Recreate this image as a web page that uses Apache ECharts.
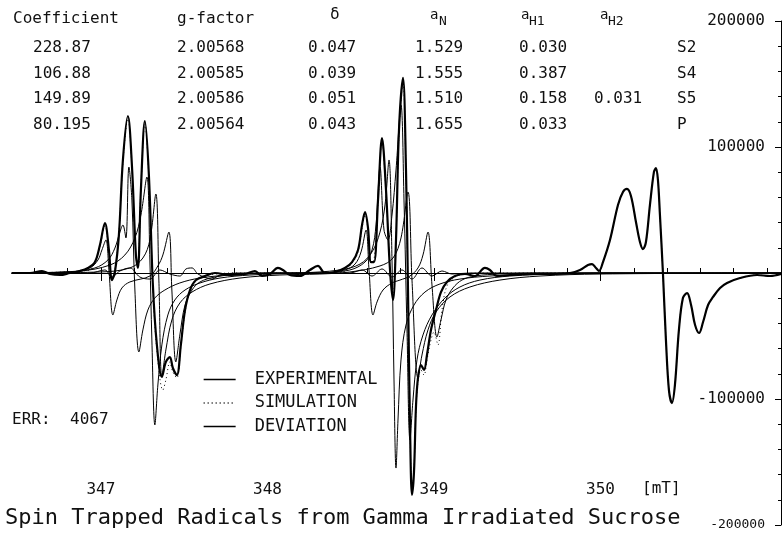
<!DOCTYPE html>
<html><head><meta charset="utf-8">
<script src="https://cdn.jsdelivr.net/npm/echarts@6/dist/echarts.min.js"></script>
<style>html,body{margin:0;padding:0;background:#fff}#c{width:784px;height:535px}</style>
</head><body><div id="c"></div>
<script>
// ---------- DATA (field in mT, intensity in arbitrary units) ----------
const experimental = [
[346.465,0],[346.574,0],[346.646,1600],[346.694,-800],[346.754,-1600],[346.814,0],[346.874,1600],[346.922,4000],
[346.964,8700],[346.994,22200],[347.024,39700],[347.048,18300],[347.066,-5600],[347.084,800],[347.108,30200],
[347.132,89700],[347.162,124600],[347.186,85700],[347.210,14300],[347.222,4000],[347.240,65900],[347.264,120600],
[347.288,77800],[347.312,-9500],[347.336,-57100],[347.366,-82500],[347.390,-70600],[347.414,-66700],[347.432,-75400],
[347.456,-81000],[347.480,-57100],[347.505,-29400],[347.535,-13500],[347.571,-5600],[347.625,-2400],[347.685,0],
[347.775,-1600],[347.865,-800],[347.925,1600],[347.967,-2400],[348.015,-800],[348.063,4000],[348.093,2400],
[348.135,-1600],[348.195,-2400],[348.255,2400],[348.303,5600],[348.345,0],[348.405,800],[348.465,4000],
[348.508,8700],[348.544,18300],[348.568,38100],[348.586,48400],[348.604,35700],[348.622,8700],[348.640,8700],
[348.664,57900],[348.688,107100],[348.712,65900],[348.736,2400],[348.754,-21400],[348.772,26200],[348.790,113500],
[348.814,154800],[348.832,81700],[348.844,-13500],[348.856,-120000],[348.868,-176000],[348.880,-158000],
[348.892,-106000],[348.904,-83300],[348.922,-73000],[348.940,-77000],[348.958,-65100],[348.982,-45200],
[349.012,-29400],[349.042,-15100],[349.078,-7100],[349.126,-2400],[349.186,-800],[349.246,-2400],[349.306,4000],
[349.336,2400],[349.378,-2400],[349.456,-1600],[349.577,-800],[349.697,-800],[349.817,0],[349.877,2400],
[349.925,6300],[349.949,7100],[349.973,4000],[349.991,1600],[350.015,8700],[350.057,26200],[350.105,54000],
[350.135,64300],[350.159,66700],[350.183,61100],[350.213,40500],[350.237,24600],[350.255,19000],[350.273,24600],
[350.297,54000],[350.321,80200],[350.333,83300],[350.345,73800],[350.357,46000],[350.375,0],[350.393,-53200],
[350.411,-92900],[350.429,-103200],[350.447,-88900],[350.471,-45200],[350.495,-19800],[350.520,-15900],
[350.544,-25400],[350.568,-41300],[350.592,-47600],[350.616,-38900],[350.646,-25400],[350.676,-19000],
[350.718,-11900],[350.760,-7900],[350.838,-4000],[350.940,-1600],[351.018,-2400],[351.084,-800]
];
const simulation = [
[346.465,0],[346.920,2000],[346.964,7900],[346.994,20600],[347.024,37300],[347.048,16700],[347.066,-4000],
[347.084,2400],[347.108,31700],[347.132,88100],[347.162,122200],[347.186,83300],[347.210,12700],[347.222,5600],
[347.240,67500],[347.264,118300],[347.288,75400],[347.312,-11900],[347.336,-61100],[347.372,-92900],
[347.390,-84900],[347.414,-70600],[347.432,-78600],[347.456,-83300],[347.480,-58700],[347.505,-31000],
[347.535,-15100],[347.571,-6300],[347.625,-2400],[347.685,-800],[347.800,0],[348.300,0],[348.435,0],
[348.508,7900],[348.544,16700],[348.568,35700],[348.586,46000],[348.604,34100],[348.622,8700],[348.640,10300],
[348.664,56300],[348.688,104800],[348.712,63500],[348.736,4000],[348.754,-19800],[348.772,27800],[348.790,111100],
[348.814,151600],[348.832,80200],[348.844,-15100],[348.856,-122000],[348.868,-172000],[348.880,-156000],
[348.892,-108000],[348.904,-86500],[348.922,-77000],[348.940,-81000],[348.958,-69000],[348.982,-53200],
[349.000,-46800],[349.024,-57100],[349.048,-29400],[349.078,-10300],[349.126,-3200],[349.186,-800],[349.300,0],
[349.817,0],[349.877,2400],[349.925,6300],[349.949,7100],[349.973,4000],[349.991,1600],[350.015,8700],
[350.057,26200],[350.105,54000],[350.135,64300],[350.159,66700],[350.183,61100],[350.213,40500],[350.237,24600],
[350.255,19000],[350.273,24600],[350.297,54000],[350.321,80200],[350.333,83300],[350.345,73800],[350.357,46000],
[350.375,0],[350.393,-53200],[350.411,-92900],[350.429,-103200],[350.447,-88900],[350.471,-45200],[350.495,-19800],
[350.520,-15900],[350.544,-25400],[350.568,-41300],[350.592,-47600],[350.616,-38900],[350.646,-25400],
[350.676,-19000],[350.718,-11900],[350.760,-7900],[350.838,-4000],[350.940,-1600],[351.018,-2400],[351.084,-800]
];
const deviation = [
[346.465,0],[346.934,0],[347.024,2400],[347.066,-3200],[347.114,1600],[347.174,4000],[347.234,-3200],
[347.294,-4800],[347.354,2400],[347.414,-800],[347.474,-2400],[347.511,3200],[347.547,4000],[347.583,-800],
[347.667,-4800],[347.715,-1600],[347.835,0],[348.495,0],[348.568,2400],[348.628,-2400],[348.688,3200],
[348.748,-3200],[348.808,2400],[348.868,-4800],[348.928,4000],[348.988,-2400],[349.048,1600],[349.108,-800],
[349.216,0],[351.084,0]
];
const compS2 = [
[346.465,0],[346.874,1600],[347.054,6300],[347.144,14300],[347.204,27800],[347.240,46000],[347.276,76200],
[347.294,10300],[347.306,-53200],[347.324,-120600],[347.342,-88900],[347.366,-57100],[347.402,-33300],
[347.444,-21400],[347.505,-13500],[347.595,-7900],[347.715,-4000],[347.895,-1600],[348.195,0],[348.435,2400],
[348.556,7100],[348.628,16700],[348.676,32500],[348.706,54000],[348.730,89700],[348.748,10300],[348.760,-84900],
[348.772,-154800],[348.784,-116700],[348.802,-69000],[348.832,-41300],[348.880,-25400],[348.946,-15100],
[349.036,-8700],[349.156,-4800],[349.336,-2400],[349.637,-800],[349.997,0],[351.084,0]
];
const compS4 = [
[346.465,0],[346.814,800],[346.934,4000],[346.982,10300],[347.006,18300],[347.030,26200],[347.048,2400],
[347.072,-33300],[347.096,-21400],[347.126,-11900],[347.174,-7100],[347.294,-2400],[347.342,5600],[347.372,14300],
[347.408,32500],[347.426,-13500],[347.450,-70600],[347.474,-49200],[347.505,-25400],[347.547,-13500],
[347.595,-7100],[347.685,-3200],[347.835,-800],[348.075,0],[348.315,0],[348.465,2400],[348.526,7100],
[348.562,16700],[348.592,34100],[348.610,2400],[348.634,-33300],[348.658,-23000],[348.694,-13500],[348.748,-7900],
[348.796,-5600],[348.856,-2400],[348.904,4000],[348.934,14300],[348.964,32500],[348.988,-9500],[349.018,-50800],
[349.042,-37300],[349.072,-21400],[349.114,-11900],[349.168,-5600],[349.246,-2400],[349.396,-800],[349.637,0],
[351.084,0]
];
const compS5 = [
[346.465,0],[346.814,800],[346.964,4000],[347.042,10300],[347.084,19800],[347.114,32500],[347.132,38100],
[347.150,27800],[347.168,84100],[347.186,57900],[347.204,-13500],[347.228,-62700],[347.252,-45200],
[347.282,-29400],[347.324,-19800],[347.384,-13500],[347.474,-7900],[347.595,-4000],[347.775,-1600],[348.075,0],
[348.315,0],[348.495,2400],[348.586,8700],[348.628,18300],[348.652,38100],[348.676,84100],[348.700,34100],
[348.724,26200],[348.748,46000],[348.772,81700],[348.802,133300],[348.820,57900],[348.838,-45200],
[348.856,-132500],[348.874,-100800],[348.898,-69000],[348.934,-49200],[348.988,-33300],[349.066,-19800],
[349.156,-11100],[349.276,-5600],[349.456,-2400],[349.757,-800],[350.117,0],[351.084,0]
];
const compP = [
[346.465,0],[346.994,800],[347.174,4000],[347.252,11900],[347.294,26200],[347.330,62700],[347.348,-5600],
[347.366,-82500],[347.390,-61100],[347.426,-37300],[347.474,-23800],[347.547,-15100],[347.655,-8700],
[347.835,-4000],[348.075,-1600],[348.315,-800],[348.495,800],[348.676,5600],[348.754,11900],[348.802,27800],
[348.844,64300],[348.868,-5600],[348.904,-83300],[348.928,-65100],[348.964,-45200],[349.012,-31000],
[349.096,-19000],[349.216,-11100],[349.396,-5600],[349.637,-2400],[349.997,-800],[351.084,0]
];
// fit table
const tableNames = ['S2','S4','S5','P'];
const coefficients = ['228.87','106.88','149.89','80.195'];
const gFactors = ['2.00568','2.00585','2.00586','2.00564'];
const deltas = ['0.047','0.039','0.051','0.043'];
const aN = ['1.529','1.555','1.510','1.655'];
const aH1 = ['0.030','0.387','0.158','0.033'];
const aH2 = ['','','0.031',''];
const errValue = '4067';
// axis ticks
const xMinorTicks = [346.6,346.8,347.0,347.2,347.4,347.6,347.8,348.0,348.2,348.4,348.6,348.8,349.0,349.2,349.4,349.6,349.8,350.0,350.2,350.4,350.6,350.8,351.0];
const xMajorTicks = [347,348,349,350];

// ---------- CHART ----------
const FONT = '"DejaVu Sans Mono", monospace';
const chart = echarts.init(document.getElementById('c'), null, {renderer:'canvas'});
const T = (text, x, y, size, align) => ({type:'text', silent:true,
  style:{text, x, y, font: (size||16)+'px '+FONT, fill:'#111', verticalAlign:'middle', align: align||'left'}});

const graphics = [];
graphics.push(T('Coefficient',13,19,16), T('g-factor',177,19,16), T('δ',330,15,16),
  T('a',430,15,14), T('N',439,22,13), T('a',521,15,14), T('H1',529,22,13), T('a',600,15,14), T('H2',608,22,13));
const rowY = [48,74,99,125];
for (let i=0;i<tableNames.length;i++){
  const y = rowY[i];
  graphics.push(T(coefficients[i],33,y,16), T(gFactors[i],177,y,16), T(deltas[i],308,y,16),
    T(aN[i],415,y,16), T(aH1[i],519,y,16), T(aH2[i],594,y,16), T(tableNames[i],677,y,16));
}
graphics.push(T('ERR:',12,420,16), T(errValue,70,420,16), T('[mT]',642,489,16),
  T('Spin Trapped Radicals from Gamma Irradiated Sucrose',5,518,22));

const line = (name, data, extra) => Object.assign({type:'line', name, data, xAxisIndex:0, yAxisIndex:0,
  symbol:'none', smooth:0.35, animation:false, silent:true,
  itemStyle:{color:'#000'}, lineStyle:{color:'#000', width:1}}, extra||{});

const GRID = {left:12, right:3, top:21, bottom:10, containLabel:false};
const xBase = {type:'value', min:346.466, max:351.084, splitLine:{show:false}};
chart.setOption({
  animation:false,
  grid:[Object.assign({}, GRID), Object.assign({}, GRID)],
  legend:{data:['EXPERIMENTAL','SIMULATION','DEVIATION'], orient:'vertical', left:198, top:366,
    itemWidth:32, itemHeight:12, itemGap:6.5, selectedMode:false,
    itemStyle:{opacity:0}, lineStyle:{width:1.3},
    textStyle:{fontFamily:FONT, fontSize:17, color:'#111', padding:[0,0,0,14]}},
  xAxis:[
    Object.assign({}, xBase, {gridIndex:0, position:'bottom',
     axisLine:{onZero:true, lineStyle:{color:'#000', width:1}},
     axisTick:{show:true, inside:true, length:5, customValues:xMinorTicks, lineStyle:{color:'#000'}},
     axisLabel:{show:false}}),
    Object.assign({}, xBase, {gridIndex:1, position:'bottom',
     axisLine:{show:true, onZero:true, lineStyle:{color:'#000', width:1}},
     axisTick:{show:true, inside:false, length:8, customValues:xMajorTicks, lineStyle:{color:'#000'}},
     axisLabel:{show:false}}),
    Object.assign({}, xBase, {gridIndex:0, position:'bottom', offset:-51,
     axisLine:{show:false, onZero:false}, axisTick:{show:false},
     axisLabel:{show:true, customValues:xMajorTicks, margin:8, fontFamily:FONT, fontSize:16, color:'#111',
       formatter:v=>String(Math.round(v))}})
  ],
  yAxis:[{gridIndex:0, type:'value', position:'right', min:-200000, max:200000, interval:100000,
    axisLine:{show:true, onZero:false, lineStyle:{color:'#000', width:1}},
    axisTick:{show:true, inside:true, length:6, lineStyle:{color:'#000'}},
    minorTick:{show:true, splitNumber:5, length:3, lineStyle:{color:'#000'}},
    axisLabel:{show:true, inside:true, margin:16, fontFamily:FONT, fontSize:16, color:'#111',
      formatter:v=> v===0 ? '' : (v===-200000 ? '{s|-200000}' : String(v)),
      rich:{s:{fontFamily:FONT, fontSize:13, color:'#111'}}},
    splitLine:{show:false}},
    {gridIndex:1, type:'value', position:'right', min:-200000, max:200000, interval:100000,
     axisLine:{show:false, onZero:false}, axisTick:{show:false}, axisLabel:{show:false}, splitLine:{show:false}}],
  graphic: graphics,
  series:[
    line('S2', compS2),
    line('S4', compS4),
    line('S5', compS5),
    line('P', compP),
    line('DEVIATION', deviation),
    line('EXPERIMENTAL', experimental, {lineStyle:{color:'#000', width:2.2}, z:3}),
    line('SIMULATION', simulation, {lineStyle:{color:'#000', width:1, type:[1,3]}, z:4})
  ]
});
</script></body></html>
